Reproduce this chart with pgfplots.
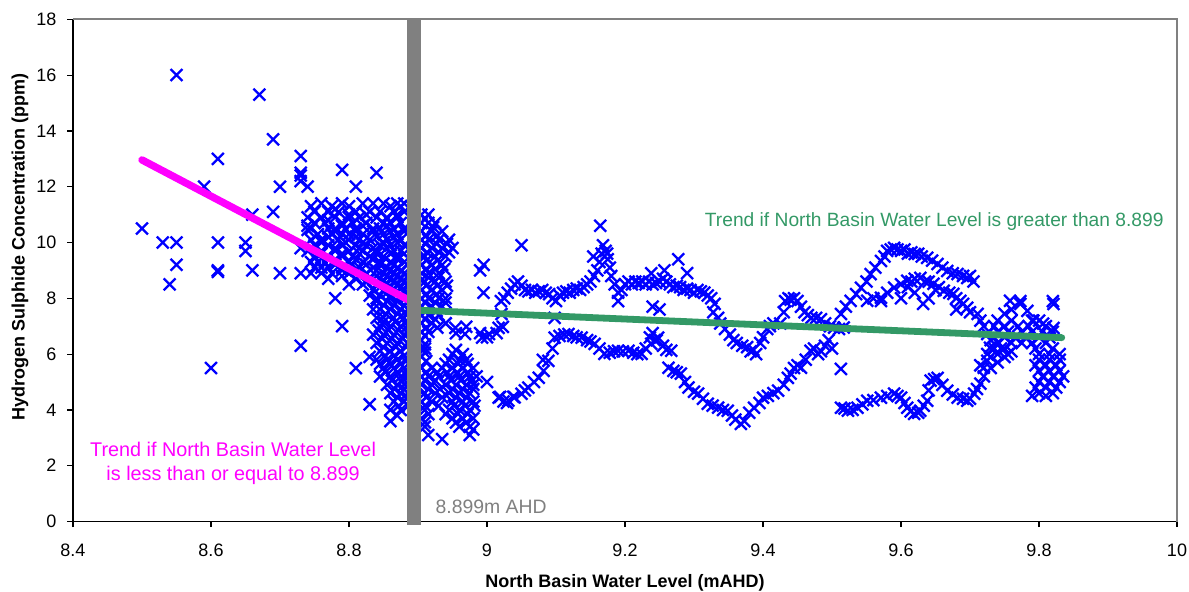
\documentclass[border=0pt]{standalone}
\usepackage{fontspec}
\setmainfont{Liberation Sans}
\usepackage{pgfplots}
\pgfplotsset{compat=1.18}
\definecolor{trendgreen}{RGB}{51,153,102}
\definecolor{trendmag}{RGB}{255,0,255}
\definecolor{ptblue}{RGB}{0,0,255}
\definecolor{barGray}{RGB}{128,128,128}
\begin{document}
\begin{tikzpicture}
\path[use as bounding box] (-36.5pt,-34.75pt) rectangle (558pt,260.75pt);
\begin{axis}[
  scale only axis,
  width=552pt, height=251.1pt,
  xmin=8.4, xmax=10, ymin=0, ymax=18,
  xtick={8.4,8.6,8.8,9,9.2,9.4,9.6,9.8,10},
  ytick={0,2,4,6,8,10,12,14,16,18},
  axis x line*=bottom, axis y line*=left,
  axis line style={black, line width=0.6pt},
  tick align=outside, major tick length=2.8pt,
  tick style={black, line width=0.6pt},
  ticklabel style={font=\fontsize{9}{11}\selectfont},
  xticklabel style={yshift=-4.7pt},
  yticklabel style={xshift=-2pt},
  /pgf/number format/assume math mode=true,
  xlabel={North Basin Water Level (mAHD)},
  xlabel style={font=\fontsize{9}{11}\selectfont\bfseries, at={(axis description cs:0.5,0)}, anchor=center, yshift=-30.5pt},
  ylabel={Hydrogen Sulphide Concentration (ppm)},
  ylabel style={font=\fontsize{9}{11}\selectfont\bfseries, at={(axis description cs:-0.048,0.547)}, anchor=center},
  clip=false,
  clip marker paths=true,
]
% observations
\addplot[only marks, mark=x, mark size=4.2pt, color=ptblue, mark options={line width=1.15pt}] coordinates {
(8.50,10.5) (8.53,10.0) (8.55,10.0) (8.55,16.0) (8.55,9.2) (8.54,8.5) (8.59,12.0) (8.60,5.5)
(8.61,13.0) (8.61,10.0) (8.61,9.0) (8.61,8.95) (8.65,10.0) (8.65,9.7) (8.66,11.0) (8.66,9.0)
(8.67,15.3) (8.69,13.7) (8.69,11.1) (8.70,12.0) (8.70,8.9) (8.73,13.1) (8.73,12.5) (8.73,12.4)
(8.73,12.2) (8.73,9.8) (8.73,8.9) (8.73,6.3) (8.74,12.0) (8.74,10.6) (8.74,10.45) (8.78,8.0)
(8.79,7.0) (8.79,12.6) (8.81,12.0) (8.81,5.5) (8.83,4.2) (8.84,12.5) (8.86,3.6)
(8.76,11.4) (8.79,11.4) (8.82,11.4) (8.835,11.4) (8.85,11.4) (8.87,11.4) (8.88,11.4)
(8.745,11.3) (8.775,11.3) (8.80,11.3) (8.86,11.3) (8.875,11.3)
(8.75,11.1) (8.77,11.1) (8.785,11.1) (8.81,11.1) (8.83,11.1) (8.845,11.1) (8.865,11.1) (8.88,11.1)
(8.74,10.9) (8.76,10.9) (8.78,10.9) (8.80,10.9) (8.815,10.9) (8.84,10.9) (8.855,10.9) (8.87,10.9)
(8.75,10.7) (8.765,10.7) (8.79,10.7) (8.805,10.7) (8.825,10.7) (8.85,10.7) (8.86,10.7) (8.875,10.7)
(8.745,10.5) (8.77,10.5) (8.78,10.5) (8.795,10.5) (8.81,10.5) (8.835,10.5) (8.845,10.5) (8.865,10.5) (8.88,10.5)
(8.755,10.3) (8.775,10.3) (8.79,10.3) (8.80,10.3) (8.82,10.3) (8.85,10.3) (8.87,10.3)
(8.745,10.1) (8.76,10.1) (8.785,10.1) (8.80,10.1) (8.815,10.1) (8.83,10.1) (8.855,10.1) (8.875,10.1)
(8.75,9.9) (8.77,9.9) (8.79,9.9) (8.81,9.9) (8.825,9.9) (8.845,9.9) (8.86,9.9) (8.88,9.9)
(8.74,9.7) (8.76,9.7) (8.78,9.7) (8.80,9.7) (8.82,9.7) (8.84,9.7) (8.865,9.7) (8.875,9.7)
(8.75,9.5) (8.77,9.5) (8.79,9.5) (8.805,9.5) (8.83,9.5) (8.85,9.5) (8.87,9.5)
(8.745,9.3) (8.755,9.3) (8.765,9.3) (8.78,9.3) (8.80,9.3) (8.82,9.3) (8.845,9.3) (8.86,9.3) (8.88,9.3)
(8.75,9.1) (8.76,9.1) (8.77,9.1) (8.79,9.1) (8.815,9.1) (8.835,9.1) (8.855,9.1) (8.87,9.1)
(8.745,8.9) (8.76,8.9) (8.775,8.9) (8.80,8.9) (8.825,8.9) (8.85,8.9) (8.865,8.9) (8.88,8.9)
(8.77,8.7) (8.81,8.7) (8.83,8.7) (8.845,8.7) (8.86,8.7) (8.875,8.7)
(8.80,8.5) (8.82,8.5) (8.84,8.5) (8.855,8.5) (8.87,8.5) (8.885,8.5)
(8.835,8.3) (8.85,8.3) (8.865,8.3) (8.88,8.3)
(8.83,8.1) (8.845,8.1) (8.86,8.1) (8.875,8.1) (8.885,8.1)
(8.78,11.2) (8.80,11.0) (8.825,11.0) (8.87,11.0) (8.77,10.8) (8.79,10.6) (8.82,10.6) (8.855,10.6)
(8.78,10.4) (8.81,10.4) (8.835,10.4) (8.86,10.4) (8.88,10.4) (8.77,10.2) (8.81,10.2) (8.84,10.2)
(8.865,10.2) (8.76,10.0) (8.795,10.0) (8.82,10.0) (8.85,10.0) (8.87,10.0) (8.78,9.8) (8.815,9.8)
(8.835,9.8) (8.855,9.8) (8.76,9.6) (8.79,9.6) (8.815,9.6) (8.84,9.6) (8.86,9.6) (8.88,9.6)
(8.78,9.4) (8.81,9.4) (8.835,9.4) (8.87,9.4) (8.78,9.2) (8.805,9.2) (8.825,9.2) (8.845,9.2)
(8.865,9.2) (8.885,9.2) (8.79,9.0) (8.81,9.0) (8.84,9.0) (8.86,9.0) (8.875,9.0) (8.79,8.8)
(8.815,8.8) (8.84,8.8) (8.855,8.8) (8.87,8.8) (8.885,8.8) (8.825,8.6) (8.85,8.6) (8.865,8.6)
(8.88,8.6) (8.845,8.4) (8.86,8.4) (8.875,8.4) (8.885,8.2) (8.855,8.2) (8.87,8.2) (8.84,8.0)
(8.86,8.0) (8.88,8.0)
(8.84,7.9) (8.855,7.9) (8.87,7.9) (8.885,7.9)
(8.845,7.6) (8.86,7.6) (8.875,7.6) (8.885,7.6) (8.835,7.6)
(8.84,7.3) (8.85,7.3) (8.865,7.3) (8.88,7.3)
(8.845,7.0) (8.86,7.0) (8.875,7.0) (8.885,7.0)
(8.835,6.7) (8.85,6.7) (8.865,6.7) (8.88,6.7)
(8.84,6.4) (8.855,6.4) (8.87,6.4) (8.885,6.4)
(8.845,6.1) (8.86,6.1) (8.875,6.1) (8.83,5.9)
(8.84,5.8) (8.855,5.8) (8.87,5.8) (8.885,5.8)
(8.85,5.5) (8.865,5.5) (8.88,5.5)
(8.845,5.2) (8.86,5.2) (8.875,5.2) (8.885,5.2)
(8.855,4.9) (8.87,4.9) (8.88,4.9)
(8.86,4.6) (8.875,4.6) (8.885,4.6)
(8.865,4.3) (8.88,4.3) (8.86,4.0) (8.875,4.0) (8.87,3.8)
(8.85,7.75) (8.865,7.75) (8.88,7.75) (8.853,7.45) (8.87,7.45) (8.884,7.45) (8.85,7.15) (8.867,7.15)
(8.882,7.15) (8.843,6.85) (8.857,6.85) (8.872,6.85) (8.886,6.85) (8.848,6.55) (8.862,6.55) (8.878,6.55)
(8.85,6.25) (8.868,6.25) (8.883,6.25) (8.852,5.95) (8.866,5.95) (8.88,5.95) (8.845,5.65) (8.86,5.65)
(8.875,5.65) (8.886,5.65) (8.853,5.35) (8.87,5.35) (8.884,5.35) (8.862,5.05) (8.876,5.05) (8.886,5.05)
(8.866,4.75) (8.88,4.75) (8.87,4.45) (8.885,4.45) (8.872,4.15) (8.886,4.15)
(8.905,11.0) (8.915,11.0)
(8.905,10.7) (8.915,10.7) (8.925,10.7)
(8.905,10.4) (8.92,10.4) (8.935,10.4)
(8.905,10.1) (8.915,10.1) (8.93,10.1) (8.945,10.1)
(8.905,9.8) (8.92,9.8) (8.935,9.8) (8.95,9.8)
(8.91,9.5) (8.925,9.5) (8.94,9.5)
(8.905,9.2) (8.92,9.2) (8.935,9.2)
(8.905,8.9) (8.915,8.9) (8.93,8.9)
(8.91,8.6) (8.925,8.6) (8.94,8.6)
(8.905,8.3) (8.92,8.3) (8.935,8.3)
(8.905,8.0) (8.915,8.0) (8.93,8.0) (8.94,8.0)
(8.905,7.7) (8.92,7.7) (8.935,7.7)
(8.905,7.4) (8.915,7.4) (8.93,7.4)
(8.905,7.1) (8.92,7.1) (8.94,7.1)
(8.905,6.8) (8.915,6.8) (8.905,6.5) (8.905,6.2) (8.91,6.2) (8.905,5.9)
(8.91,10.85) (8.922,10.55) (8.912,10.25) (8.928,10.25) (8.911,9.95) (8.927,9.95) (8.942,9.95) (8.913,9.65)
(8.93,9.65) (8.945,9.65) (8.912,9.35) (8.928,9.35) (8.912,9.05) (8.925,9.05) (8.938,9.05) (8.915,8.75)
(8.93,8.75) (8.912,8.45) (8.928,8.45) (8.942,8.45) (8.912,8.15) (8.927,8.15) (8.91,7.85) (8.925,7.85)
(8.94,7.85) (8.912,7.55) (8.927,7.55) (8.91,7.25) (8.925,7.25) (8.912,6.95) (8.928,6.95) (8.91,6.65)
(8.91,6.35) (8.91,6.05) (8.912,5.75)
(8.95,6.0) (8.965,6.0) (8.945,5.8) (8.96,5.8) (8.97,5.8)
(8.905,5.5) (8.92,5.5) (8.935,5.5) (8.95,5.5) (8.965,5.5) (8.98,5.5)
(8.905,5.2) (8.915,5.2) (8.93,5.2) (8.945,5.2) (8.96,5.2) (8.975,5.2) (8.985,5.2)
(8.905,4.9) (8.92,4.9) (8.94,4.9) (8.955,4.9) (8.97,4.9) (8.98,4.9)
(8.91,4.6) (8.925,4.6) (8.945,4.6) (8.96,4.6) (8.975,4.6)
(8.905,4.3) (8.92,4.3) (8.95,4.3) (8.965,4.3) (8.98,4.3)
(8.91,4.0) (8.945,4.0) (8.96,4.0) (8.975,4.0)
(8.905,3.7) (8.95,3.7) (8.965,3.7) (8.98,3.7)
(8.91,3.4) (8.96,3.4) (8.975,3.4) (8.915,3.1) (8.975,3.1) (8.935,2.95)
(8.912,5.35) (8.928,5.35) (8.942,5.35) (8.957,5.35) (8.972,5.35) (8.91,5.05) (8.925,5.05) (8.948,5.05)
(8.962,5.05) (8.978,5.05) (8.915,4.75) (8.932,4.75) (8.95,4.75) (8.965,4.75) (8.98,4.75) (8.912,4.45)
(8.935,4.45) (8.955,4.45) (8.97,4.45) (8.91,4.15) (8.93,4.15) (8.952,4.15) (8.968,4.15) (8.982,4.15)
(8.915,3.85) (8.94,3.85) (8.958,3.85) (8.972,3.85) (8.91,3.55) (8.955,3.55) (8.97,3.55) (8.98,3.3)
(8.955,6.15) (8.958,5.65) (8.972,5.65) (8.94,5.65)
(8.94,7.1) (8.955,6.75) (8.97,6.98) (8.99,6.75) (9.0,6.6) (9.014,6.75) (9.023,6.98) (9.021,7.44)
(8.954,6.94) (8.968,6.72) (8.993,6.59) (9.003,6.72) (9.017,6.94)
(8.995,9.2) (8.995,8.2) (8.99,9.0) (9.05,9.9) (9.0,5.0) (9.019,4.47) (9.029,4.25) (9.038,4.47)
(9.02,7.9) (9.025,8.0) (9.03,8.2) (9.035,8.35) (9.04,8.5) (9.045,8.6) (9.05,8.45) (9.055,8.3)
(9.06,8.25) (9.065,8.3) (9.07,8.2) (9.075,8.25) (9.08,8.3) (9.085,8.2) (9.09,8.15) (9.095,8.0)
(9.10,7.9) (9.105,8.1) (9.11,8.2) (9.115,8.25) (9.12,8.2) (9.125,8.3) (9.13,8.35) (9.135,8.3)
(9.14,8.4) (9.145,8.5) (9.15,8.6) (9.155,8.8) (9.16,9.0) (9.163,9.3) (9.166,9.6) (9.168,9.9)
(9.164,10.6) (9.154,9.5) (9.174,9.6) (9.172,9.7) (9.175,9.4) (9.178,9.1) (9.18,8.8) (9.185,8.5)
(9.19,8.2) (9.19,7.9) (9.195,8.3) (9.20,8.5) (9.205,8.6) (9.21,8.5) (9.215,8.6) (9.22,8.55)
(9.225,8.6) (9.23,8.5) (9.235,8.6) (9.24,8.5) (9.245,8.55) (9.25,8.6) (9.255,8.7) (9.26,8.6)
(9.265,8.5) (9.27,8.4) (9.275,8.45) (9.28,8.4) (9.285,8.3) (9.29,8.35) (9.295,8.3) (9.30,8.2)
(9.305,8.3) (9.31,8.25) (9.315,8.2) (9.32,8.1) (9.325,8.0)
(9.238,8.9) (9.257,9.0) (9.277,9.4) (9.29,8.9) (9.24,7.7) (9.25,7.6)
(9.236,6.6) (9.24,6.75) (9.246,6.5) (9.26,6.15)
(9.33,7.8) (9.328,7.5) (9.335,7.3) (9.338,7.1) (9.345,6.9) (9.352,6.7) (9.357,6.5) (9.362,6.4)
(9.37,6.3) (9.377,6.25) (9.382,6.1) (9.386,6.15) (9.39,6.0) (9.396,6.4) (9.40,6.6) (9.406,6.9)
(9.41,7.0) (9.415,7.1) (9.425,7.1) (9.43,7.5) (9.432,7.9) (9.437,8.0) (9.44,7.95) (9.445,8.0)
(9.45,7.9) (9.455,7.7) (9.46,7.5) (9.465,7.4) (9.47,7.3) (9.477,7.3) (9.484,7.25) (9.49,7.1)
(9.497,7.0) (9.503,6.95) (9.51,6.9) (9.517,6.95)
(9.513,7.44) (9.52,7.7) (9.527,7.91) (9.535,8.15) (9.542,8.38) (9.55,8.6) (9.556,8.87) (9.563,9.1)
(9.571,9.34) (9.576,9.5) (9.58,9.7) (9.585,9.75) (9.59,9.81) (9.595,9.75)
(9.6,9.7) (9.605,9.75) (9.61,9.6) (9.615,9.65) (9.62,9.59) (9.625,9.6) (9.63,9.5) (9.638,9.45)
(9.645,9.35) (9.653,9.23) (9.66,9.1) (9.667,8.98) (9.675,8.9) (9.682,8.87) (9.69,8.8) (9.696,8.73)
(9.70,8.8) (9.705,8.6)
(9.551,7.91) (9.56,8.0) (9.571,8.02) (9.58,8.2) (9.59,8.38) (9.60,8.5) (9.609,8.63) (9.615,8.6)
(9.62,8.7) (9.628,8.73) (9.635,8.6) (9.64,8.6) (9.647,8.52) (9.655,8.4) (9.662,8.27) (9.67,8.2)
(9.676,8.16) (9.68,8.0) (9.686,7.91) (9.69,7.8) (9.696,7.66) (9.70,7.5) (9.711,7.44)
(9.571,7.9) (9.6,8.0) (9.632,7.8) (9.61,8.4) (9.62,8.2) (9.65,8.3) (9.68,7.6) (9.64,8.0)
(9.715,7.2) (9.72,7.0) (9.725,6.72) (9.73,6.5) (9.729,6.23) (9.725,6.0) (9.725,5.76) (9.72,5.51)
(9.74,7.2) (9.76,7.2) (9.79,7.2) (9.80,7.2)
(9.735,7.0) (9.75,7.0) (9.77,7.0) (9.785,7.0) (9.81,7.0)
(9.74,6.8) (9.755,6.8) (9.775,6.8) (9.79,6.8) (9.805,6.8) (9.82,6.8)
(9.735,6.6) (9.75,6.6) (9.765,6.6) (9.78,6.6) (9.80,6.6) (9.815,6.6)
(9.74,6.4) (9.76,6.4) (9.775,6.4) (9.79,6.4) (9.81,6.4)
(9.735,6.2) (9.75,6.2) (9.795,6.2) (9.82,6.2)
(9.74,6.0) (9.755,6.0) (9.80,6.0) (9.815,6.0) (9.83,6.0)
(9.758,7.91) (9.773,7.8) (9.783,7.55) (9.792,7.2) (9.806,7.09) (9.821,6.94) (9.821,7.8) (9.82,7.9)
(9.773,7.9) (9.76,7.6) (9.75,7.45)
(9.80,5.8) (9.815,5.8) (9.83,5.8) (9.795,5.6) (9.81,5.6) (9.825,5.6)
(9.80,5.4) (9.815,5.4) (9.83,5.4) (9.805,5.2) (9.82,5.2) (9.835,5.2)
(9.80,5.0) (9.815,5.0) (9.83,5.0) (9.795,4.8) (9.81,4.8) (9.825,4.8)
(9.80,4.6) (9.82,4.6) (9.79,4.5) (9.81,4.5)
(9.715,5.6) (9.73,5.5) (9.74,5.7) (9.75,5.9) (9.76,6.1) (9.73,5.9) (9.745,6.2)
(9.513,4.08) (9.518,4.05) (9.523,3.97) (9.53,4.0) (9.537,4.08) (9.544,4.2) (9.551,4.33) (9.56,4.35)
(9.571,4.44) (9.58,4.5) (9.59,4.58) (9.595,4.5) (9.60,4.44) (9.605,4.25) (9.609,4.08) (9.614,3.95)
(9.619,3.86) (9.625,3.9) (9.628,3.97) (9.633,4.15) (9.638,4.33) (9.64,4.7) (9.643,5.05) (9.648,5.1)
(9.653,5.15) (9.66,4.9) (9.667,4.69) (9.675,4.55) (9.682,4.44) (9.69,4.4) (9.696,4.33) (9.70,4.4)
(9.706,4.58) (9.71,4.75) (9.715,4.94) (9.72,5.2) (9.513,5.47)
(9.263,5.51) (9.27,5.4) (9.275,5.35) (9.281,5.3) (9.287,5.0) (9.292,4.8) (9.30,4.65) (9.306,4.58)
(9.313,4.4) (9.32,4.22) (9.327,4.15) (9.335,4.08) (9.342,4.0) (9.349,3.97) (9.355,3.8) (9.36,3.65)
(9.368,3.5) (9.373,3.6) (9.38,3.9) (9.387,4.08) (9.395,4.25) (9.40,4.44) (9.407,4.5) (9.415,4.6)
(9.422,4.69) (9.43,4.9) (9.436,5.15) (9.44,5.3) (9.445,5.5) (9.45,5.6) (9.455,5.51) (9.462,5.8)
(9.469,6.12) (9.474,6.2) (9.48,6.0) (9.484,6.1) (9.49,6.3) (9.495,6.5) (9.50,6.2)
(9.017,4.44) (9.024,4.3) (9.031,4.33) (9.04,4.45) (9.05,4.58) (9.055,4.7) (9.06,4.8) (9.068,5.0)
(9.075,5.15) (9.082,5.4) (9.089,5.76) (9.095,6.2) (9.098,6.59) (9.105,6.65) (9.112,6.7) (9.118,6.72)
(9.125,6.65) (9.13,6.6) (9.137,6.59) (9.145,6.5) (9.15,6.45) (9.156,6.37) (9.163,6.2) (9.17,6.01)
(9.178,6.05) (9.184,6.1) (9.19,6.12) (9.197,6.1) (9.205,6.12) (9.212,6.05) (9.218,6.0) (9.224,6.01)
(9.23,6.2) (9.238,6.37) (9.243,6.5) (9.248,6.59) (9.255,6.3) (9.267,6.12)
(9.098,7.3) (9.081,5.79)
};
% trend lines
\addplot[trendmag, line width=3.7pt, line cap=round] coordinates {(8.5,12.96) (8.894,7.84)};
\addplot[trendgreen, line width=3.4pt, line cap=round] coordinates {(8.894,7.58) (9.833,6.59)};
% threshold bar
\addplot[barGray, line width=7pt] coordinates {(8.894,-0.12) (8.894,18)};
\draw[barGray, line width=0.9pt] (rel axis cs:0,1) -- (rel axis cs:1,1) -- (rel axis cs:1,0);
\node[anchor=east, inner sep=0pt, text=trendgreen, font=\fontsize{9.6}{11}\selectfont] at (axis cs:9.981,10.75) {Trend if North Basin Water Level is greater than 8.899};
\node[align=center, inner sep=0pt, text=trendmag, font=\fontsize{9.9}{11.7}\selectfont] at (axis cs:8.632,2.09) {Trend if North Basin Water Level\\is less than or equal to 8.899};
\node[anchor=west, inner sep=0pt, text=barGray, font=\fontsize{9.7}{11}\selectfont] at (axis cs:8.925,0.52) {8.899m AHD};
\end{axis}
\end{tikzpicture}
\end{document}
